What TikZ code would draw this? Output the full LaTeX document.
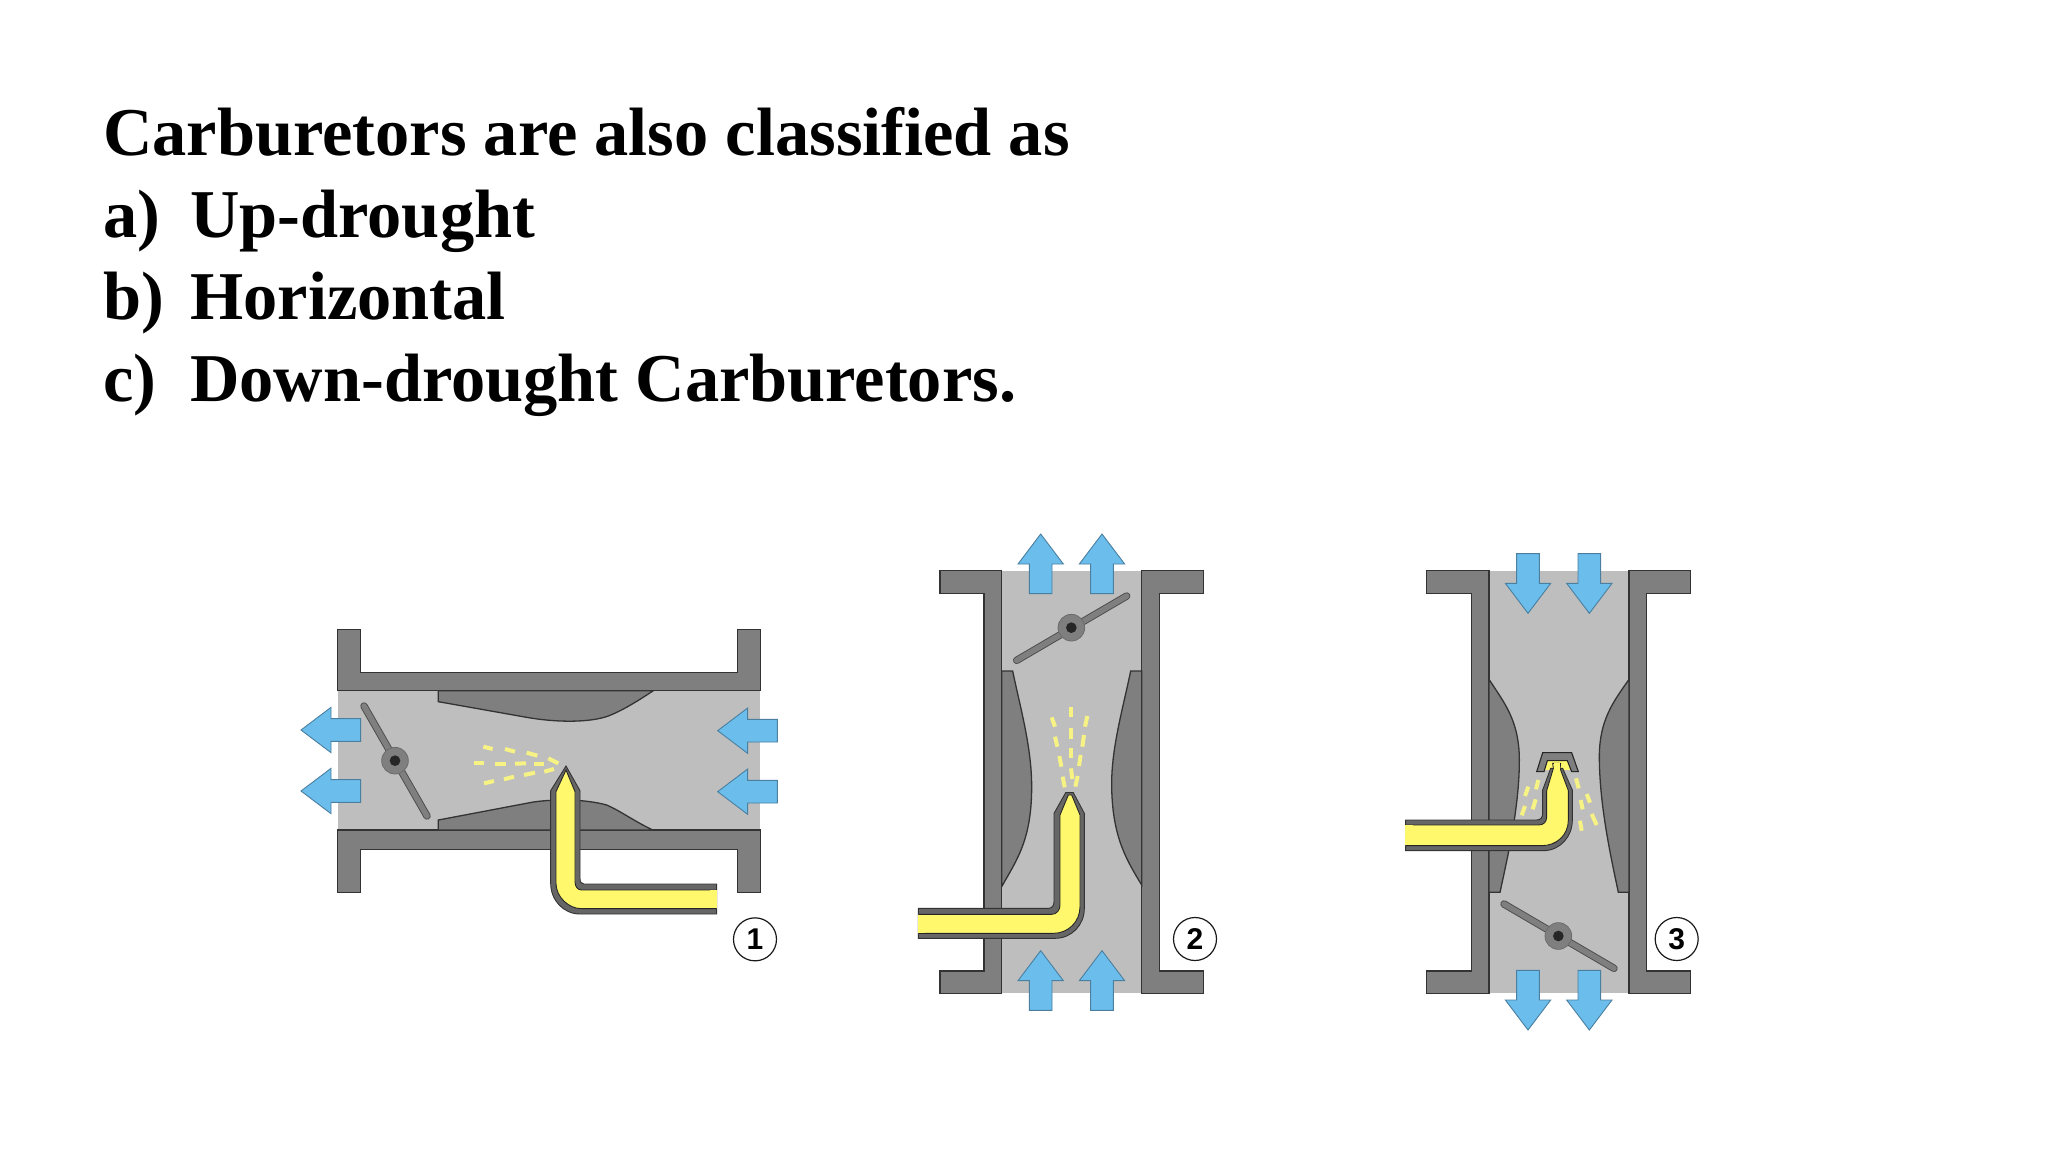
\documentclass[tikz,border=0pt]{standalone}
\usepackage{fontspec}
\setmainfont{Liberation Serif}
\setsansfont{Liberation Sans}
\definecolor{wallc}{HTML}{7F7F7F}
\definecolor{borec}{HTML}{BEBEBE}
\definecolor{edgec}{HTML}{333333}
\definecolor{flowc}{HTML}{6BBDEC}
\definecolor{flowe}{HTML}{4A7F9F}
\definecolor{fuelc}{HTML}{FFF86C}
\definecolor{sprayc}{HTML}{F7F284}
\tikzset{
  x=0.5pt,y=-0.5pt,
  wall/.style={fill=wallc,draw=edgec,line width=.65pt,line join=miter},
  bore/.style={fill=borec,draw=none},
  pipeouter/.style={fill=black!60,draw=black!80,line width=.45pt},
  pipeinner/.style={fill=fuelc,draw=black!85,line width=.45pt},
  spray/.style={draw=sprayc,line width=2pt,line cap=butt},
  headline/.style={anchor=base west,inner sep=0pt,font=\fontsize{34.2}{40}\selectfont\bfseries},
  tag/.style={circle,draw=black!90,fill=white,line width=.6pt,minimum size=21.5pt,inner sep=0pt,font=\sffamily\bfseries\fontsize{15}{15}\selectfont},
  flowarrow/.pic={\draw[scale=1/3,fill=flowc,draw=flowe,line width=.45pt,line join=miter]
    (0,0)--(90,-68)--(90,-34)--(179,-34)--(179,34)--(90,34)--(90,68)--cycle;},
}
\newcommand{\throttlevalve}[6]{%
  \draw[edgec!70!wallc,line width=3.7pt,line cap=round] (#3,#4)--(#5,#6);
  \draw[wallc,line width=2.8pt,line cap=round] (#3,#4)--(#5,#6);
  \fill[wallc,draw=wallc!85!black,line width=.4pt] (#1,#2) circle (40);
  \fill[black!85] (#1,#2) circle (16);
}
\begin{document}
\begin{tikzpicture}
\useasboundingbox (0,0) rectangle (2048,1152);
\fill[white] (0,0) rectangle (2048,1152);
\node[headline] (line0) at (103,155) {Carburetors are also classified as};
\node[headline] (line1) at (103,237) {\hbox to 43.5pt{a)\hfil}Up-drought};
\node[headline] (line2) at (103,319) {\hbox to 43.5pt{b)\hfil}Horizontal};
\node[headline] (line3) at (103,401) {\hbox to 43.5pt{c)\hfil}Down-drought Carburetors.};

% ---------- 1
\begin{scope}[shift={(280,600)},scale=1/3]
  \fill[bore] (175,272) rectangle (1440,690);
  \draw[wall] (172,88)--(241,88)--(241,218)--(1373,218)--(1373,88)--(1442,88)--(1442,272)--(172,272)--cycle;
  \draw[wall] (172,690)--(1442,690)--(1442,878)--(1373,878)--(1373,748)--(241,748)--(241,878)--(172,878)--cycle;
  \draw[wall] (475,272)--(475,305)--(740,352) .. controls (830,368) and (930,368) .. (985,348) .. controls (1030,330) and (1070,305) .. (1120,272)--cycle;
  \draw[wall] (475,690)--(475,660)--(760,606) .. controls (830,596) and (920,598) .. (980,615) .. controls (1020,632) and (1060,662) .. (1118,690)--cycle;
  \throttlevalve{345}{482}{252}{318}{441}{648}
  \draw[pipeouter] (1310,852)--(912,852) .. controls (903,852) and (900,845) .. (900,835)--(900,572)--(858,498)--(812,572)--(812,850) .. controls (812,900) and (850,942) .. (900,942)--(1310,942)--cycle;
  \draw[pipeinner] (1310,870)--(905,870) .. controls (893,870) and (885,860) .. (885,845)--(885,575)--(858,510)--(828,575)--(828,850) .. controls (828,890) and (865,926) .. (905,926)--(1310,926);
  \fill[fuelc] (1312,871) rectangle (1290,925);
  \foreach \a/\b/\c/\d in {610/440/638/447,675/447/705/455,740/458/772/467,805/475/835/490,582/490/612/490,645/491/677/491,705/491/738/490,762/491/793/491,793/515/822/507,732/525/765/518,672/538/702/530,612/550/642/543}
    \draw[spray] (\a,\b)--(\c,\d);
  \pic at (63,390) {flowarrow};
  \pic at (63,573) {flowarrow};
  \pic at (1313,392) {flowarrow};
  \pic at (1313,575) {flowarrow};
  \node[tag] (tag1) at (1425,1018) {1};
\end{scope}

% ---------- 2
\begin{scope}[shift={(900,520)},scale=1/3]
  \fill[bore] (305,152) rectangle (725,1420);
  \draw[wall] (120,152)--(305,152)--(305,1420)--(120,1420)--(120,1353)--(252,1353)--(252,220)--(120,220)--cycle;
  \draw[wall] (910,152)--(725,152)--(725,1420)--(910,1420)--(910,1353)--(778,1353)--(778,220)--(910,220)--cycle;
  \draw[wall] (305,453)--(338,453) .. controls (360,560) and (395,680) .. (395,800) .. controls (395,960) and (350,1020) .. (305,1100)--cycle;
  \draw[wall] (725,453)--(692,453) .. controls (670,560) and (635,680) .. (635,790) .. controls (635,950) and (680,1020) .. (725,1095)--cycle;
  \throttlevalve{514}{323}{350}{421}{680}{228}
  \draw[pipeouter] (55,1165)--(445,1165) .. controls (456,1165) and (462,1156) .. (462,1145)--(462,880)--(497,818)--(520,818)--(553,880)--(553,1165) .. controls (553,1215) and (515,1255) .. (465,1255)--(55,1255)--cycle;
  \draw[pipeinner] (55,1183)--(455,1183) .. controls (470,1183) and (480,1170) .. (480,1155)--(480,885)--(505,825)--(515,825)--(540,885)--(540,1160) .. controls (540,1205) and (505,1240) .. (460,1240)--(55,1240);
  \fill[fuelc] (53,1184) rectangle (75,1239);
  \foreach \a/\b/\c/\d in {455/592/465/620,513/560/513/592,562/588/555/620,465/650/472/680,513/625/513/657,552/645/547/680,478/708/484/740,513/683/513/715,542/705/537/738,488/770/494/802,513/745/517/777,533/768/526/800}
    \draw[spray] (\a,\b)--(\c,\d);
  \pic[rotate=-90] at (422,42) {flowarrow};
  \pic[rotate=-90] at (606,42) {flowarrow};
  \pic[rotate=-90] at (422,1292) {flowarrow};
  \pic[rotate=-90] at (606,1292) {flowarrow};
  \node[tag] (tag2) at (885,1257) {2};
\end{scope}

% ---------- 3
\begin{scope}[shift={(1390,520)},scale=1/3]
  \fill[bore] (297,152) rectangle (717,1420);
  \draw[wall] (110,152)--(297,152)--(297,1420)--(110,1420)--(110,1353)--(245,1353)--(245,220)--(110,220)--cycle;
  \draw[wall] (902,152)--(717,152)--(717,1420)--(902,1420)--(902,1353)--(770,1353)--(770,220)--(902,220)--cycle;
  \draw[wall] (297,478) .. controls (340,545) and (388,600) .. (388,720) .. controls (388,860) and (355,1000) .. (330,1117)--(297,1117)--cycle;
  \draw[wall] (717,478) .. controls (670,545) and (628,600) .. (628,710) .. controls (628,850) and (660,1000) .. (685,1117)--(717,1117)--cycle;
  \throttlevalve{505}{1248}{342}{1152}{672}{1345}
  \foreach \a/\b/\c/\d in {445/780/438/808,415/800/405/828,437/838/428/868,405/858/395/886,558/775/566/805,590/822/600/848,572/840/578/868,605/882/620/915,570/902/575/932}
    \draw[spray] (\a,\b)--(\c,\d);
  \fill[fuelc] (473,722)--(531,722)--(541,750)--(464,750)--cycle;
  \draw[pipeouter] (47,900)--(440,900) .. controls (452,900) and (458,892) .. (458,880)--(458,810)--(482,745)--(518,745)--(547,810)--(547,900) .. controls (547,950) and (510,992) .. (460,992)--(47,992)--cycle;
  \draw[pipeinner] (47,915)--(445,915) .. controls (462,915) and (470,905) .. (470,890)--(470,812)--(490,745)--(488,730)--(512,730)--(510,745)--(535,812)--(535,900) .. controls (535,945) and (500,977) .. (455,977)--(47,977);
  \fill[fuelc] (45,916) rectangle (70,976);
  \fill[fuelc] (491,728) rectangle (509,750);
  \draw[fill=wallc,draw=black!85,line width=.55pt] (440,755)--(458,698)--(545,698)--(565,755)--(545,755)--(532,722)--(472,722)--(462,755)--cycle;
  \pic[rotate=90] at (414,280) {flowarrow};
  \pic[rotate=90] at (598,280) {flowarrow};
  \pic[rotate=90] at (414,1530) {flowarrow};
  \pic[rotate=90] at (598,1530) {flowarrow};
  \node[tag] (tag3) at (860,1257) {3};
\end{scope}
\end{tikzpicture}
\end{document}
